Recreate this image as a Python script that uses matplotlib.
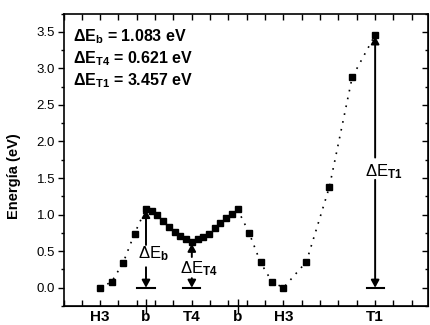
import matplotlib
matplotlib.use("Agg")
import matplotlib.pyplot as plt
from matplotlib.ticker import MultipleLocator, FixedLocator, NullLocator

plt.rcParams['font.family'] = ['Liberation Sans', 'DejaVu Sans']
plt.rcParams['mathtext.fontset'] = 'custom'
plt.rcParams['mathtext.rm'] = 'Liberation Sans'
plt.rcParams['mathtext.bf'] = 'Liberation Sans:bold'
plt.rcParams['mathtext.it'] = 'Liberation Sans:italic'

# ---- data ----
site_labels = ['H3', 'b', 'T4', 'b', 'H3', 'T1']
site_pos = [2, 4.5, 7, 9.5, 12, 17]

path_x = [2, 2.625, 3.25, 3.875,
          4.5, 4.8125, 5.125, 5.4375, 5.75, 6.0625, 6.375, 6.6875, 7.0,
          7.3125, 7.625, 7.9375, 8.25, 8.5625, 8.875, 9.1875, 9.5,
          10.125, 10.75, 11.375, 12,
          13.25, 14.5, 15.75, 17]
energy = [0.0, 0.08, 0.34, 0.74,
          1.083, 1.05, 0.99, 0.91, 0.83, 0.76, 0.71, 0.66, 0.621,
          0.66, 0.69, 0.74, 0.81, 0.88, 0.95, 1.01, 1.07,
          0.75, 0.345, 0.08, 0.0,
          0.355, 1.375, 2.88, 3.457]

barrier_names = ['b', 'T4', 'T1']
barrier_x = [4.5, 7, 17]
barrier_e = [1.083, 0.621, 3.457]
# (top segment start, bottom segment start, label x, label baseline)
gap_lo = [0.28, 0.13, 1.475]
gap_hi = [0.585, 0.42, 1.78]
label_x = [4.06, 6.36, 16.45]
label_y = [0.405, 0.20, 1.52]

fig = plt.figure(figsize=(4.3, 3.25), dpi=100)
ax = fig.add_axes([63.5 / 430, 19 / 325, (428.3 - 63.5) / 430, (306 - 13.5) / 325])

ax.plot(path_x, energy, color='black', linestyle=(0, (1, 3.8)), linewidth=1.2,
        marker='s', markersize=4.2, markerfacecolor='black', markeredgecolor='black')

arrow_kw = dict(arrowstyle='-|>,head_length=0.55,head_width=0.3', color='black',
                lw=1.4, mutation_scale=8, shrinkA=0, shrinkB=0)
for name, bx, be, lo, hi, lx, ly in zip(barrier_names, barrier_x, barrier_e,
                                        gap_lo, gap_hi, label_x, label_y):
    ax.annotate('', xy=(bx, be - 0.02), xytext=(bx, hi), arrowprops=arrow_kw)
    ax.annotate('', xy=(bx, 0.0), xytext=(bx, lo), arrowprops=arrow_kw)
    ax.plot([bx - 0.47, bx + 0.47], [0, 0], color='black', lw=1.5)
    ax.text(lx, ly, r'$\mathrm{\Delta E}_{\mathbf{%s}}$' % name, fontsize=12,
            ha='left', va='baseline')

summary_y = [3.37, 3.07, 2.77]
for name, be, sy in zip(barrier_names, barrier_e, summary_y):
    ax.text(0.52, sy, r'$\mathbf{\Delta E}_{\mathbf{%s}}$ = %.3f eV' % (name, be),
            fontsize=11.5, fontweight='bold', ha='left', va='baseline')

ax.set_xlim(0, 19.9)
ax.set_ylim(-0.25, 3.75)

# x ticks
ax.xaxis.remove_overlapping_locs = False
ax.xaxis.set_major_locator(FixedLocator(site_pos))
ax.set_xticklabels(site_labels, fontsize=11, fontweight='bold')
ax.xaxis.set_minor_locator(MultipleLocator(1))
ax.tick_params(axis='x', which='major', length=0, pad=3)
ax.tick_params(axis='x', which='minor', direction='in', length=4, width=1,
               top=True, bottom=True)

sx = ax.secondary_xaxis('bottom')
sx.set_xticks([site_pos[1], site_pos[3]])
sx.set_xticklabels(['', ''])
sx.xaxis.set_minor_locator(NullLocator())
sx.tick_params(direction='inout', length=10, width=1)

# y ticks
ax.yaxis.set_major_locator(MultipleLocator(0.5))
ax.yaxis.set_minor_locator(MultipleLocator(0.25))
ax.yaxis.set_major_formatter(matplotlib.ticker.FormatStrFormatter('%.1f'))
ax.tick_params(axis='y', which='major', direction='out', length=4, width=1,
               labelsize=9.5, pad=2)
ax.tick_params(axis='y', which='minor', direction='out', length=2, width=1)

sy_ax = ax.secondary_yaxis('right')
sy_ax.yaxis.set_major_locator(MultipleLocator(0.5))
sy_ax.yaxis.set_minor_locator(MultipleLocator(0.25))
sy_ax.tick_params(which='major', direction='in', length=4.5, width=1, labelright=False)
sy_ax.tick_params(which='minor', direction='in', length=2.5, width=1)

for s in ax.spines.values():
    s.set_linewidth(1.2)

ax.set_ylabel('Energía (eV)', fontsize=10.5, fontweight='bold')
ax.yaxis.set_label_coords(-0.1165, 0.444)

fig.savefig('out.png', dpi=100)
